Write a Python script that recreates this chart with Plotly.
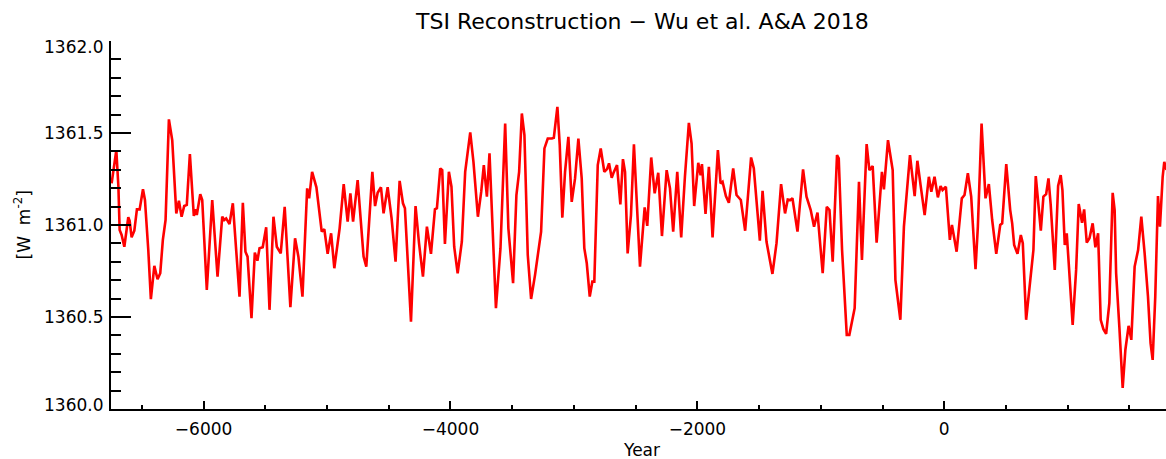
import plotly.graph_objects as go

# Reconstructed total solar irradiance (Wu et al. 2018), year vs. TSI in W m^-2
years = [
    -6745, -6707, -6690, -6680, -6664, -6642, -6610, -6599, -6583, -6561,
    -6540, -6518, -6491, -6475, -6448, -6427, -6399, -6373, -6351, -6330,
    -6308, -6281, -6254, -6221, -6200, -6178, -6157, -6136, -6111, -6079,
    -6065, -6055, -6027, -6011, -5974, -5930, -5887, -5849, -5833, -5817,
    -5790, -5763, -5709, -5682, -5661, -5644, -5612, -5585, -5564, -5547,
    -5521, -5493, -5466, -5434, -5407, -5375, -5343,
    -5297, -5259, -5232, -5199, -5161, -5145, -5121, -5086, -5043, -5022,
    -4995, -4967, -4941, -4898, -4865, -4833, -4811, -4789, -4752, -4704,
    -4682, -4633, -4611, -4590, -4563, -4542, -4509, -4477, -4445, -4412,
    -4385, -4369, -4320, -4283, -4255, -4223, -4191, -4158, -4126, -4110,
    -4083, -4067, -4045, -4013, -3992, -3970, -3942, -3908, -3881, -3840,
    -3814, -3778, -3751, -3730, -3705, -3684, -3660, -3632, -3595, -3557,
    -3531, -3493, -3466, -3444, -3422, -3401, -3374, -3347, -3315, -3282,
    -3266, -3239, -3212, -3179, -3163, -3134, -3115, -3094, -3072, -3045,
    -3018, -2991, -2964, -2937, -2916, -2896, -2872, -2851, -2835, -2807,
    -2783, -2754, -2732, -2716, -2694, -2678, -2651, -2624, -2603, -2586,
    -2565, -2538, -2514,
    -2465, -2427, -2406, -2374, -2346, -2317, -2287, -2249, -2222, -2196,
    -2163, -2131, -2101, -2069, -2047, -2026, -1993, -1974, -1963, -1934,
    -1907, -1877, -1834, -1812, -1796, -1769, -1745, -1710, -1683, -1648,
    -1613, -1565, -1543, -1494, -1472, -1440, -1413, -1392, -1359, -1322,
    -1290, -1268, -1246, -1230, -1189, -1144, -1116,
    -1082, -1055, -1027, -985, -952, -930, -904, -869, -855, -828,
    -790, -769, -726, -691, -667, -629, -607, -580, -548, -505,
    -489, -456, -434, -418, -396, -356, -327, -299, -278, -240,
    -218, -192, -159, -125, -105, -79, -52, -30, -14, 13,
    45, 62, 100, 142, 164, 191, 218, 253, 272, 302,
    334, 361, 388, 421, 453, 469, 502, 534, 550, 566,
    593, 620, 636, 663, 696, 722, 741, 761, 782, 803,
    825, 844, 862, 895, 922, 943, 957, 976, 992, 1008,
    1040, 1068, 1089, 1116, 1133, 1154, 1176, 1202, 1224, 1246,
    1267, 1289, 1311, 1337, 1364, 1380, 1392, 1418, 1445, 1467,
    1493, 1515, 1542, 1570, 1596, 1623, 1650, 1671, 1688, 1709,
    1731, 1747, 1769, 1782, 1800,
]

tsi = [
    1361.226, 1361.407, 1361.208, 1360.973, 1360.946, 1360.882, 1361.042, 1361.023, 1360.933, 1360.969,
    1361.085, 1361.085, 1361.194, 1361.136, 1360.864, 1360.597, 1360.778, 1360.705, 1360.738, 1360.919,
    1361.027, 1361.574, 1361.461, 1361.063, 1361.132, 1361.045, 1361.103, 1361.109, 1361.385, 1361.049,
    1361.085, 1361.054, 1361.168, 1361.136, 1360.647, 1361.136, 1360.719, 1361.045, 1361.027, 1361.036,
    1361.005, 1361.118, 1360.611, 1361.121, 1360.855, 1360.828, 1360.494, 1360.850, 1360.806, 1360.874,
    1360.879, 1360.988, 1360.539, 1361.045, 1360.882, 1360.846, 1361.099,
    1360.553, 1360.928, 1360.828, 1360.611, 1361.199, 1361.145, 1361.289, 1361.205, 1360.964, 1360.977,
    1360.843, 1360.955, 1360.765, 1360.982, 1361.222, 1361.018, 1361.172, 1361.018, 1361.244, 1360.828,
    1360.774, 1361.289, 1361.103, 1361.175, 1361.205, 1361.063, 1361.205, 1361.036, 1360.801, 1361.240,
    1361.118, 1361.091, 1360.475, 1361.103, 1360.901, 1360.719, 1360.991, 1360.843, 1361.085, 1361.091,
    1361.308, 1361.298, 1360.897, 1361.289, 1361.208, 1360.882, 1360.738, 1360.909, 1361.289, 1361.503,
    1361.343, 1361.045, 1361.181, 1361.326, 1361.154, 1361.389, 1361.018, 1360.548, 1360.874, 1361.552,
    1360.982, 1360.684, 1361.163, 1361.289, 1361.606, 1361.488, 1360.837, 1360.598, 1360.729, 1360.874,
    1360.964, 1361.416, 1361.470, 1361.470, 1361.474, 1361.642, 1361.434, 1361.040, 1361.289, 1361.479,
    1361.126, 1361.253, 1361.470, 1361.253, 1360.874, 1360.792, 1360.611, 1360.692, 1360.692, 1361.326,
    1361.416, 1361.289, 1361.304, 1361.335, 1361.257, 1361.286, 1361.326, 1361.112, 1361.358, 1361.289,
    1360.846, 1361.054, 1361.438,
    1360.774, 1361.096, 1360.995, 1361.367, 1361.172, 1361.284, 1360.940, 1361.298, 1361.199, 1360.964,
    1361.289, 1360.933, 1361.262, 1361.555, 1361.443, 1361.103, 1361.338, 1361.271, 1361.331, 1361.060,
    1361.316, 1360.933, 1361.407, 1361.226, 1361.235, 1361.157, 1361.121, 1361.308, 1361.163, 1361.136,
    1360.969, 1361.367, 1361.308, 1360.915, 1361.186, 1360.909, 1360.810, 1360.734, 1360.901, 1361.222,
    1361.063, 1361.139, 1361.136, 1361.145, 1360.964, 1361.302, 1361.154,
    1361.081, 1360.991, 1361.067, 1360.738, 1361.099, 1361.081, 1360.801, 1361.380, 1361.362, 1360.864,
    1360.403, 1360.403, 1360.548, 1361.235, 1360.810, 1361.440, 1361.298, 1361.320, 1360.904, 1361.289,
    1361.194, 1361.461, 1361.371, 1361.298, 1360.702, 1360.485, 1360.991, 1361.226, 1361.380, 1361.157,
    1361.349, 1361.217, 1361.054, 1361.262, 1361.181, 1361.262, 1361.150, 1361.212, 1361.190, 1361.208,
    1360.919, 1361.000, 1360.855, 1361.145, 1361.163, 1361.281, 1361.154, 1360.760, 1360.991, 1361.551,
    1361.145, 1361.222, 1361.027, 1360.843, 1361.000, 1361.009, 1361.331, 1361.081, 1361.009, 1360.891,
    1360.843, 1360.946, 1360.901, 1360.485, 1360.719, 1360.864, 1361.266, 1361.099, 1360.969, 1361.154,
    1361.168, 1361.253, 1361.109, 1360.756, 1361.212, 1361.271, 1361.190, 1360.891, 1360.955, 1360.792,
    1360.457, 1360.756, 1361.114, 1361.012, 1361.085, 1360.904, 1360.928, 1361.009, 1360.879, 1360.955,
    1360.485, 1360.434, 1360.409, 1360.575, 1361.175, 1361.081, 1360.738, 1360.448, 1360.114, 1360.322,
    1360.452, 1360.376, 1360.774, 1360.864, 1361.045, 1360.846, 1360.611, 1360.358, 1360.267, 1360.611,
    1361.157, 1360.991, 1361.262, 1361.343, 1361.300,
]

x_range = [-6750, 1796]
y_range = [1360.0, 1362.0]
y_tick_values = [1360.0, 1360.5, 1361.0, 1361.5, 1362.0]

title_text = "TSI Reconstruction \u2212 Wu et al. A&amp;A 2018"
x_title = "Year"
y_title = "[W  m<sup>-2</sup>]"

FONT = "DejaVu Sans"
TICK_FONT = dict(family=FONT, size=17, color="black")

fig = go.Figure(
    go.Scatter(
        x=years,
        y=tsi,
        mode="lines",
        line=dict(color="#ff0000", width=2.6),
        showlegend=False,
    )
)

axis_common = dict(
    showgrid=False,
    zeroline=False,
    showline=True,
    linecolor="black",
    linewidth=2,
    ticks="inside",
    tickcolor="black",
    tickwidth=2,
    tickfont=TICK_FONT,
    mirror=False,
)

# y tick labels: the end labels are kept inside the axis span
y_label_annotations = []
for v in y_tick_values:
    if v == y_range[1]:
        shift = -6
    elif v == y_range[0]:
        shift = 4
    else:
        shift = 0
    y_label_annotations.append(
        dict(text=f"{v:.1f}", xref="paper", yref="y", x=0, y=v,
             xanchor="right", yanchor="middle", xshift=-6, yshift=shift,
             showarrow=False, font=TICK_FONT)
    )

fig.update_layout(
    width=1166,
    height=459,
    margin=dict(l=111, r=0, t=41, b=50),
    paper_bgcolor="white",
    plot_bgcolor="white",
    xaxis=dict(
        range=x_range,
        tick0=0,
        dtick=2000,
        ticklen=8,
        ticklabelstandoff=4,
        minor=dict(tick0=0, dtick=500, ticks="inside", ticklen=4,
                   tickwidth=2, tickcolor="black"),
        **axis_common,
    ),
    yaxis=dict(
        range=y_range,
        tick0=1360,
        dtick=0.5,
        ticklen=20,
        showticklabels=False,
        minor=dict(tick0=1360, dtick=0.1, ticks="inside", ticklen=10,
                   tickwidth=2, tickcolor="black"),
        **axis_common,
    ),
    annotations=y_label_annotations + [
        dict(text=title_text, xref="paper", yref="paper", x=0.503, y=1.052,
             xanchor="center", yanchor="middle", showarrow=False,
             font=dict(family=FONT, size=22, color="black")),
        dict(text=x_title, xref="paper", yref="paper", x=0.503, y=-0.111,
             xanchor="center", yanchor="middle", showarrow=False,
             font=dict(family=FONT, size=17, color="black")),
        dict(text=y_title, xref="paper", yref="paper", x=-0.084, y=0.5,
             xanchor="center", yanchor="middle", showarrow=False, textangle=-90,
             font=dict(family=FONT, size=17, color="black")),
    ],
)

fig.write_html("out.html")
